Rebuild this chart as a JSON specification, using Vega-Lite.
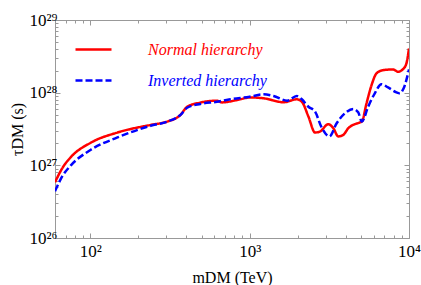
{
  "$schema": "https://vega.github.io/schema/vega-lite/v6.json",
  "width": 354,
  "height": 218,
  "autosize": {"type": "none"},
  "padding": {"left": 55, "top": 20, "right": 12, "bottom": 47},
  "background": "white",
  "config": {
    "view": {"stroke": "#999999", "strokeWidth": 1},
    "font": "Liberation Serif",
    "axis": {"domain": false, "grid": false, "tickColor": "#999999", "labelFont": "Liberation Serif", "titleFont": "Liberation Serif", "labelColor": "black", "titleColor": "black", "labelFontSize": 17, "titleFontSize": 16, "titleFontWeight": "normal", "labelOverlap": false, "labelFlush": false}
  },
  "data": {"values": [
    {"m": 60, "tau": 5.85e26, "s": "Normal hierarchy"},
    {"m": 67, "tau": 9.3e26, "s": "Normal hierarchy"},
    {"m": 75.5, "tau": 1.3e27, "s": "Normal hierarchy"},
    {"m": 100.7, "tau": 2.05e27, "s": "Normal hierarchy"},
    {"m": 148, "tau": 2.83e27, "s": "Normal hierarchy"},
    {"m": 239, "tau": 3.6e27, "s": "Normal hierarchy"},
    {"m": 304, "tau": 4.0e27, "s": "Normal hierarchy"},
    {"m": 368, "tau": 4.95e27, "s": "Normal hierarchy"},
    {"m": 405, "tau": 6.4e27, "s": "Normal hierarchy"},
    {"m": 490, "tau": 7.3e27, "s": "Normal hierarchy"},
    {"m": 623, "tau": 7.76e27, "s": "Normal hierarchy"},
    {"m": 670, "tau": 7.35e27, "s": "Normal hierarchy"},
    {"m": 871, "tau": 8.1e27, "s": "Normal hierarchy"},
    {"m": 1000, "tau": 8.6e27, "s": "Normal hierarchy"},
    {"m": 1223, "tau": 8.37e27, "s": "Normal hierarchy"},
    {"m": 1632, "tau": 7.38e27, "s": "Normal hierarchy"},
    {"m": 1976, "tau": 8.1e27, "s": "Normal hierarchy"},
    {"m": 2125, "tau": 7.5e27, "s": "Normal hierarchy"},
    {"m": 2337, "tau": 4.7e27, "s": "Normal hierarchy"},
    {"m": 2572, "tau": 2.83e27, "s": "Normal hierarchy"},
    {"m": 2760, "tau": 2.92e27, "s": "Normal hierarchy"},
    {"m": 3117, "tau": 3.68e27, "s": "Normal hierarchy"},
    {"m": 3350, "tau": 3.24e27, "s": "Normal hierarchy"},
    {"m": 3600, "tau": 2.5e27, "s": "Normal hierarchy"},
    {"m": 3870, "tau": 2.63e27, "s": "Normal hierarchy"},
    {"m": 4160, "tau": 3.24e27, "s": "Normal hierarchy"},
    {"m": 4920, "tau": 3.9e27, "s": "Normal hierarchy"},
    {"m": 5060, "tau": 4.0e27, "s": "Normal hierarchy"},
    {"m": 5410, "tau": 7.1e27, "s": "Normal hierarchy"},
    {"m": 5820, "tau": 1.27e28, "s": "Normal hierarchy"},
    {"m": 6250, "tau": 1.84e28, "s": "Normal hierarchy"},
    {"m": 6880, "tau": 2.04e28, "s": "Normal hierarchy"},
    {"m": 7940, "tau": 2.09e28, "s": "Normal hierarchy"},
    {"m": 8530, "tau": 1.94e28, "s": "Normal hierarchy"},
    {"m": 9170, "tau": 2.11e28, "s": "Normal hierarchy"},
    {"m": 9620, "tau": 2.5e28, "s": "Normal hierarchy"},
    {"m": 10000, "tau": 4.05e28, "s": "Normal hierarchy"},
    {"m": 60, "tau": 4.4e26, "s": "Inverted hierarchy"},
    {"m": 67, "tau": 7.2e26, "s": "Inverted hierarchy"},
    {"m": 75.5, "tau": 1.0e27, "s": "Inverted hierarchy"},
    {"m": 100.7, "tau": 1.64e27, "s": "Inverted hierarchy"},
    {"m": 148, "tau": 2.42e27, "s": "Inverted hierarchy"},
    {"m": 239, "tau": 3.5e27, "s": "Inverted hierarchy"},
    {"m": 304, "tau": 4.0e27, "s": "Inverted hierarchy"},
    {"m": 368, "tau": 4.95e27, "s": "Inverted hierarchy"},
    {"m": 405, "tau": 6.2e27, "s": "Inverted hierarchy"},
    {"m": 490, "tau": 7.0e27, "s": "Inverted hierarchy"},
    {"m": 623, "tau": 7.5e27, "s": "Inverted hierarchy"},
    {"m": 757, "tau": 8.1e27, "s": "Inverted hierarchy"},
    {"m": 1000, "tau": 8.8e27, "s": "Inverted hierarchy"},
    {"m": 1223, "tau": 9.5e27, "s": "Inverted hierarchy"},
    {"m": 1412, "tau": 9.0e27, "s": "Inverted hierarchy"},
    {"m": 1720, "tau": 7.76e27, "s": "Inverted hierarchy"},
    {"m": 1976, "tau": 9.0e27, "s": "Inverted hierarchy"},
    {"m": 2125, "tau": 8.1e27, "s": "Inverted hierarchy"},
    {"m": 2337, "tau": 6.4e27, "s": "Inverted hierarchy"},
    {"m": 2572, "tau": 5.5e27, "s": "Inverted hierarchy"},
    {"m": 2810, "tau": 3.42e27, "s": "Inverted hierarchy"},
    {"m": 3163, "tau": 2.5e27, "s": "Inverted hierarchy"},
    {"m": 3516, "tau": 3.8e27, "s": "Inverted hierarchy"},
    {"m": 3960, "tau": 5.2e27, "s": "Inverted hierarchy"},
    {"m": 4470, "tau": 5.97e27, "s": "Inverted hierarchy"},
    {"m": 4800, "tau": 5.37e27, "s": "Inverted hierarchy"},
    {"m": 5060, "tau": 4.0e27, "s": "Inverted hierarchy"},
    {"m": 5540, "tau": 6.4e27, "s": "Inverted hierarchy"},
    {"m": 6100, "tau": 9.8e27, "s": "Inverted hierarchy"},
    {"m": 6710, "tau": 1.31e28, "s": "Inverted hierarchy"},
    {"m": 7390, "tau": 1.18e28, "s": "Inverted hierarchy"},
    {"m": 8340, "tau": 1.01e28, "s": "Inverted hierarchy"},
    {"m": 8720, "tau": 9.8e27, "s": "Inverted hierarchy"},
    {"m": 9260, "tau": 1.15e28, "s": "Inverted hierarchy"},
    {"m": 10000, "tau": 2.09e28, "s": "Inverted hierarchy"}
  ]},
  "resolve": {"axis": {"x": "independent", "y": "independent"}},
  "layer": [
    {
      "mark": {"type": "line", "interpolate": "monotone", "strokeWidth": 2.5, "clip": true},
      "encoding": {
        "x": {"field": "m", "type": "quantitative",
          "scale": {"type": "log", "domain": [60, 10000], "nice": false},
          "axis": {"orient": "bottom", "title": "mDM (TeV)", "titlePadding": 8,
            "values": [60,70,80,90,100,200,300,400,500,600,700,800,900,1000,2000,3000,4000,5000,6000,7000,8000,9000,10000],
            "labelExpr": "datum.value == 100 ? '10²' : datum.value == 1000 ? '10³' : datum.value == 10000 ? '10⁴' : ''",
            "tickSize": {"condition": {"test": "datum.value == 100 || datum.value == 1000 || datum.value == 10000", "value": -5}, "value": -3},
            "labelPadding": 10}},
        "y": {"field": "tau", "type": "quantitative",
          "scale": {"type": "log", "domain": [1e26, 1e29], "nice": false},
          "axis": {"orient": "left", "title": "τDM (s)", "titlePadding": 3,
            "values": [1e26,2e26,3e26,4e26,5e26,6e26,7e26,8e26,9e26,1e27,2e27,3e27,4e27,5e27,6e27,7e27,8e27,9e27,1e28,2e28,3e28,4e28,5e28,6e28,7e28,8e28,9e28,1e29],
            "labelExpr": "datum.value == 1e26 ? '10²⁶' : datum.value == 1e27 ? '10²⁷' : datum.value == 1e28 ? '10²⁸' : datum.value == 1e29 ? '10²⁹' : ''",
            "tickSize": {"condition": {"test": "datum.value == 1e26 || datum.value == 1e27 || datum.value == 1e28 || datum.value == 1e29", "value": -5}, "value": -3},
            "labelPadding": 3}},
        "color": {"field": "s", "type": "nominal",
          "scale": {"domain": ["Normal hierarchy", "Inverted hierarchy"], "range": ["#ff0000", "#0000ff"]},
          "legend": {"orient": "none", "legendX": 19, "legendY": 10, "title": null, "padding": 0,
            "symbolType": "stroke", "symbolSize": 1296, "symbolStrokeWidth": 2.5,
            "labelOffset": 35, "labelFont": "Liberation Serif", "labelFontSize": 16, "labelFontStyle": "italic", "rowPadding": 3,
            "encode": {"labels": {"update": {"fill": {"signal": "datum.label == 'Normal hierarchy' ? '#ff0000' : '#0000ff'"}}}}}},
        "strokeDash": {"field": "s", "type": "nominal",
          "scale": {"domain": ["Normal hierarchy", "Inverted hierarchy"], "range": [[1, 0], [7, 3]]},
          "legend": null}
      }
    },
    {
      "mark": {"type": "line", "opacity": 0},
      "encoding": {
        "x": {"field": "m", "type": "quantitative",
          "axis": {"orient": "top", "title": null, "labels": false,
            "values": [60,70,80,90,100,200,300,400,500,600,700,800,900,1000,2000,3000,4000,5000,6000,7000,8000,9000,10000],
            "tickSize": {"condition": {"test": "datum.value == 100 || datum.value == 1000 || datum.value == 10000", "value": -5}, "value": -3}}},
        "y": {"field": "tau", "type": "quantitative",
          "axis": {"orient": "right", "title": null, "labels": false,
            "values": [1e26,2e26,3e26,4e26,5e26,6e26,7e26,8e26,9e26,1e27,2e27,3e27,4e27,5e27,6e27,7e27,8e27,9e27,1e28,2e28,3e28,4e28,5e28,6e28,7e28,8e28,9e28,1e29],
            "tickSize": {"condition": {"test": "datum.value == 1e26 || datum.value == 1e27 || datum.value == 1e28 || datum.value == 1e29", "value": -5}, "value": -3}}},
        "detail": {"field": "s", "type": "nominal"}
      }
    }
  ]
}
